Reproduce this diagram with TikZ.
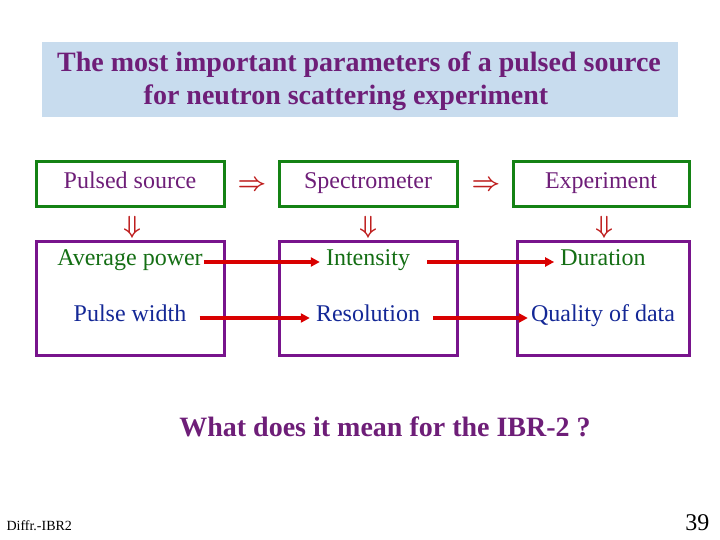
\documentclass[tikz,border=0pt]{standalone}
\usepackage{fontspec}
\setmainfont{Liberation Serif}
\usetikzlibrary{arrows.meta}
\definecolor{ttl}{RGB}{110,30,120}
\definecolor{bgb}{RGB}{200,220,238}
\definecolor{gbox}{RGB}{20,130,20}
\definecolor{pbox}{RGB}{120,20,140}
\definecolor{gtx}{RGB}{20,110,20}
\definecolor{btx}{RGB}{20,40,150}
\definecolor{darr}{RGB}{190,30,30}
\begin{document}
\begin{tikzpicture}[x=1pt,y=-1pt,
  topbox/.style={draw=gbox,line width=3pt},
  lowbox/.style={draw=pbox,line width=3pt},
  lbl/.style={font=\fontsize{24}{28}\selectfont,text height=0.7em,text depth=0.22em},
  impl/.style={text=darr,font=\boldmath\fontsize{28}{30}\selectfont},
  link/.style={draw=red!85!black,line width=3.2pt,-{Triangle[length=9pt,width=9pt]}}]
\useasboundingbox (0,0) rectangle (720,540);
\fill[bgb] (42,42) rectangle (678,117);
\node[text=ttl,font=\bfseries\fontsize{28}{32}\selectfont] (t1) at (359,65) {The most important parameters of a pulsed source};
\node[text=ttl,font=\bfseries\fontsize{28}{32}\selectfont] (t2) at (346,98) {for neutron scattering experiment};
\draw[topbox] (36,162) rectangle (224,207);
\draw[topbox] (279,162) rectangle (457,207);
\draw[topbox] (513,162) rectangle (689,207);
\draw[lowbox] (36,241) rectangle (224,355);
\draw[lowbox] (279,241) rectangle (457,355);
\draw[lowbox] (517,241) rectangle (689,355);
\node[lbl,text=ttl] (ps) at (130,186) {Pulsed source};
\node[lbl,text=ttl] (sp) at (368,186) {Spectrometer};
\node[lbl,text=ttl] (ex) at (601,186) {Experiment};
\node[impl] (i1) at (252,186) {$\Rightarrow$};
\node[impl] (i2) at (486,186) {$\Rightarrow$};
\node[impl] (d1) at (132,227) {$\Downarrow$};
\node[impl] (d2) at (368,227) {$\Downarrow$};
\node[impl] (d3) at (604,227) {$\Downarrow$};
\node[lbl,text=gtx,inner sep=1pt] (ap) at (130,263) {Average power};
\node[lbl,text=gtx,inner sep=1pt] (in) at (368,263) {Intensity};
\node[lbl,text=gtx,inner sep=1pt] (du) at (603,263) {Duration};
\node[lbl,text=btx,inner sep=1pt] (pw) at (130,319) {Pulse width};
\node[lbl,text=btx,inner sep=1pt] (re) at (368,319) {Resolution};
\node[lbl,text=btx,inner sep=1pt] (qd) at (603,319) {Quality of data};
\draw[link] ([yshift=1pt]ap.east) -- ([xshift=-5pt,yshift=1pt]in.west);
\draw[link] ([xshift=16pt,yshift=1pt]in.east) -- ([xshift=-5pt,yshift=1pt]du.west);
\draw[link] ([xshift=12pt,yshift=1pt]pw.east) -- ([xshift=-5pt,yshift=1pt]re.west);
\draw[link] ([xshift=12pt,yshift=1pt]re.east) -- ([xshift=-2pt,yshift=1pt]qd.west);
\node[text=ttl,font=\bfseries\fontsize{28}{32}\selectfont] (q) at (385,427) {What does it mean for the IBR-2 ?};
\node[font=\fontsize{14}{16}\selectfont,anchor=west] (ft) at (3,526) {Diffr.-IBR2};
\node[font=\fontsize{24}{26}\selectfont,anchor=east] (pg) at (713,523) {39};
\end{tikzpicture}
\end{document}
